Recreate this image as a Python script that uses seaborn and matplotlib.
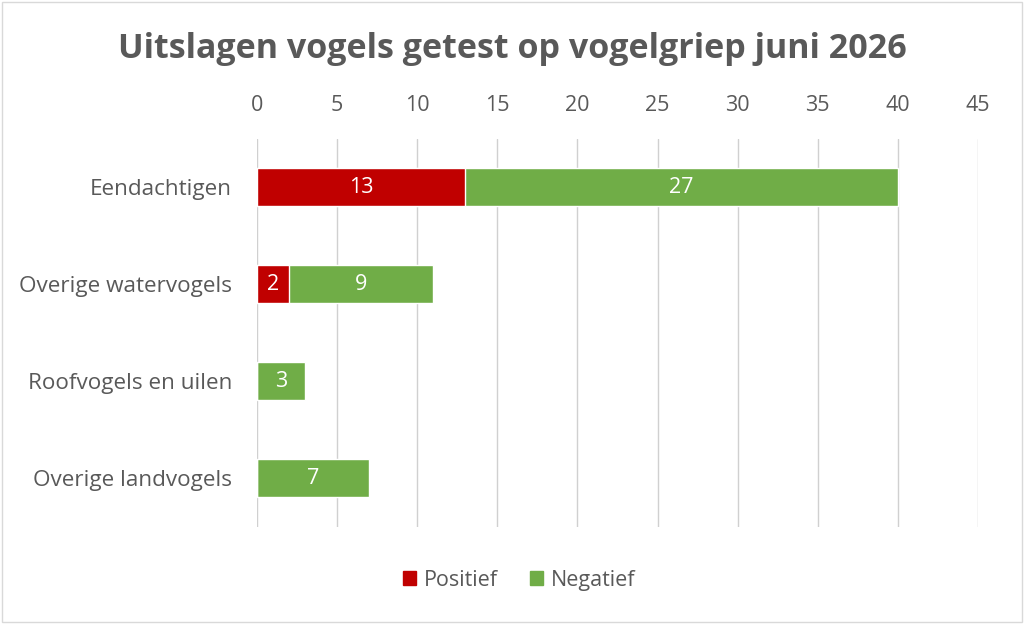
import pandas as pd
import seaborn as sns
import numpy as np
import matplotlib.pyplot as plt
from matplotlib.patches import Patch

categorieen = ['Eendachtigen', 'Overige watervogels', 'Roofvogels en uilen', 'Overige landvogels']
positief = [13, 2, 0, 0]
negatief = [27, 9, 3, 7]

rood = '#C00000'
groen = '#70AD47'
grijs = '#595959'

df = pd.DataFrame({'categorie': categorieen, 'positief': positief, 'negatief': negatief})
df['totaal'] = df['positief'] + df['negatief']

sns.set_style('white')
plt.rcParams['font.family'] = ['Open Sans', 'DejaVu Sans']

fig = plt.figure(figsize=(10.24, 6.24), dpi=100)
ax = fig.add_axes([0.251, 0.156, 0.704, 0.622])

# totaal in groen, positief in rood eroverheen -> gestapeld
sns.barplot(data=df, y='categorie', x='totaal', color=groen, orient='h', width=0.39,
            saturation=1, ax=ax)
sns.barplot(data=df, y='categorie', x='positief', color=rood, orient='h', width=0.39,
            saturation=1, ax=ax)

for i, row in df.iterrows():
    if row['positief'] > 0:
        ax.text(row['positief'] / 2, i, str(row['positief']), ha='center', va='center',
                color='white', fontsize=15.5)
    if row['negatief'] > 0:
        ax.text(row['positief'] + row['negatief'] / 2, i, str(row['negatief']),
                ha='center', va='center', color='white', fontsize=15.5)

ax.set_xlim(0, 45)
ax.set_ylim(3.5, -0.5)
ax.set_xticks(range(0, 50, 5))
ax.xaxis.tick_top()
ax.tick_params(axis='x', length=0, labelsize=15.5, labelcolor=grijs, pad=16)
ax.tick_params(axis='y', length=0, labelsize=16.2, labelcolor=grijs, pad=18)
ax.set_xlabel('')
ax.set_ylabel('')
ax.grid(axis='x', color='#D0D0D0', linewidth=1)
ax.set_axisbelow(True)
for s in ax.spines.values():
    s.set_visible(False)

fig.text(0.5, 0.922, 'Uitslagen vogels getest op vogelgriep juni 2026', ha='center',
         va='center', fontsize=24.5, fontweight='bold', color=grijs)

handles = [Patch(color=rood, label='Positief'), Patch(color=groen, label='Negatief')]
fig.legend(handles=handles, loc='center', bbox_to_anchor=(0.507, 0.07), ncol=2,
           frameon=False, fontsize=15.5, labelcolor=grijs, handlelength=0.6,
           handleheight=0.6, columnspacing=1.5, handletextpad=0.35)

fig.patches.append(plt.Rectangle((0.002, 0.003), 0.996, 0.994, transform=fig.transFigure,
                                 fill=False, edgecolor='#D9D9D9', linewidth=1))

fig.savefig('out.png', dpi=100)
